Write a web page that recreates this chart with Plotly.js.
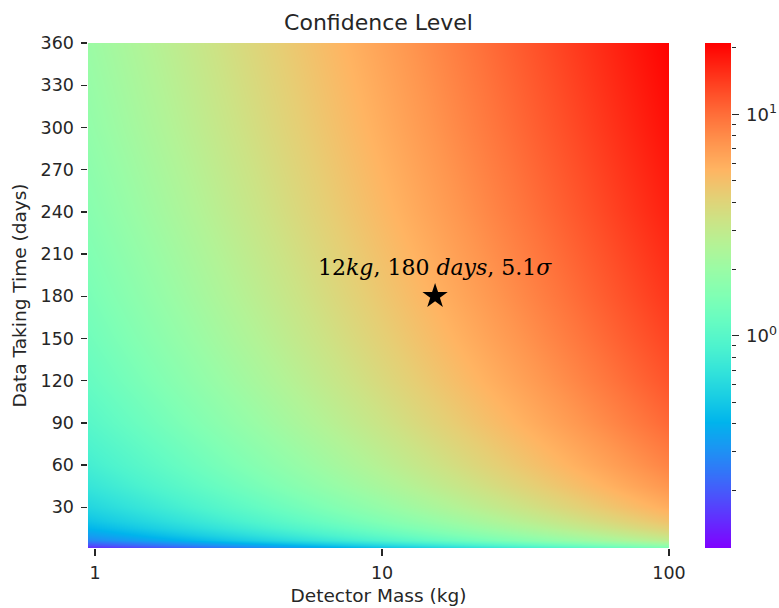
<!DOCTYPE html>
<html>
<head>
<meta charset="utf-8">
<script src="https://cdn.plot.ly/plotly-3.0.1.min.js"></script>
<style>html,body{margin:0;padding:0;background:#ffffff;}</style>
</head>
<body>
<div id="chart" style="width:779px;height:608px;"></div>
<script>
// ---- data ----
const massKg = [0.944, 2, 3, 5, 10, 20, 30, 50, 100];
const daysTaken = [1, 2, 3, 5, 7, 10, 15, 20, 30, 45, 60, 90, 120, 150, 180, 240, 300, 360];
// confidence level (sigma); one row per entry of daysTaken, one column per entry of massKg
const confidenceSigma = [
  [0.107, 0.155, 0.190, 0.245, 0.347, 0.491, 0.601, 0.776, 1.10],
  [0.151, 0.219, 0.269, 0.347, 0.491, 0.694, 0.850, 1.10, 1.55],
  [0.185, 0.269, 0.329, 0.425, 0.601, 0.850, 1.04, 1.34, 1.90],
  [0.238, 0.347, 0.425, 0.549, 0.776, 1.10, 1.34, 1.74, 2.45],
  [0.282, 0.411, 0.503, 0.649, 0.918, 1.30, 1.59, 2.05, 2.90],
  [0.337, 0.491, 0.601, 0.776, 1.10, 1.55, 1.90, 2.45, 3.47],
  [0.413, 0.601, 0.736, 0.950, 1.34, 1.90, 2.33, 3.01, 4.25],
  [0.477, 0.694, 0.850, 1.10, 1.55, 2.19, 2.69, 3.47, 4.91],
  [0.584, 0.850, 1.04, 1.34, 1.90, 2.69, 3.29, 4.25, 6.01],
  [0.715, 1.04, 1.27, 1.65, 2.33, 3.29, 4.03, 5.20, 7.36],
  [0.826, 1.20, 1.47, 1.90, 2.69, 3.80, 4.66, 6.01, 8.50],
  [1.01, 1.47, 1.80, 2.33, 3.29, 4.66, 5.70, 7.36, 10.4],
  [1.17, 1.70, 2.08, 2.69, 3.80, 5.38, 6.58, 8.50, 12.0],
  [1.31, 1.90, 2.33, 3.01, 4.25, 6.01, 7.36, 9.50, 13.4],
  [1.43, 2.08, 2.55, 3.29, 4.66, 6.58, 8.06, 10.4, 14.7],
  [1.65, 2.40, 2.94, 3.80, 5.38, 7.60, 9.31, 12.0, 17.0],
  [1.85, 2.69, 3.29, 4.25, 6.01, 8.50, 10.4, 13.4, 19.0],
  [2.02, 2.94, 3.61, 4.66, 6.58, 9.31, 11.4, 14.7, 20.8]
];
const massTickVals = [1, 10, 100];
const massTickText = ['1', '10', '100'];
const dayTickVals = [30, 60, 90, 120, 150, 180, 210, 240, 270, 300, 330, 360];
const colorMin = 0.11;
const colorMax = 21;
const colorbarLevels = [0.11, 0.2, 0.5, 1, 2, 5, 10, 21];
const colorbarMajorVals = [1, 10];
const colorbarMajorText = ['10<sup>0</sup>', '10<sup>1</sup>'];
const colorbarMinorVals = [0.2, 0.3, 0.4, 0.5, 0.6, 0.7, 0.8, 0.9, 2, 3, 4, 5, 6, 7, 8, 9, 20];
const markerMass = [15.3];
const markerDays = [180];
const markerLabel = '12<i>kg</i>, 180 <i>days</i>, 5.1<i>σ</i>';

// ---- style ----
const rainbow = [
  [0.00, 'rgb(128,0,255)'], [0.05, 'rgb(102,40,254)'], [0.10, 'rgb(77,79,252)'],
  [0.15, 'rgb(51,116,248)'], [0.20, 'rgb(26,150,243)'], [0.25, 'rgb(0,180,236)'],
  [0.30, 'rgb(26,206,227)'], [0.35, 'rgb(51,227,218)'], [0.40, 'rgb(77,243,206)'],
  [0.45, 'rgb(102,252,194)'], [0.50, 'rgb(128,255,180)'], [0.55, 'rgb(153,252,166)'],
  [0.60, 'rgb(179,243,150)'], [0.65, 'rgb(204,227,133)'], [0.70, 'rgb(230,206,116)'],
  [0.75, 'rgb(255,180,98)'], [0.80, 'rgb(255,150,79)'], [0.85, 'rgb(255,116,60)'],
  [0.90, 'rgb(255,79,40)'], [0.95, 'rgb(255,40,20)'], [1.00, 'rgb(255,0,0)']
];
const textColor = '#262626';
const zLo = Math.log10(colorMin), zHi = Math.log10(colorMax);

const traces = [
  {
    type: 'heatmap',
    x: massKg, y: daysTaken,
    z: confidenceSigma.map(r => r.map(v => Math.log10(v))),
    zsmooth: 'best', zmin: zLo, zmax: zHi,
    colorscale: rainbow, showscale: false, hoverinfo: 'skip'
  },
  {
    type: 'heatmap',
    x: [0, 1], y: colorbarLevels,
    z: colorbarLevels.map(v => [Math.log10(v), Math.log10(v)]),
    xaxis: 'x2', yaxis: 'y2',
    zsmooth: 'best', zmin: zLo, zmax: zHi,
    colorscale: rainbow, showscale: false, hoverinfo: 'skip'
  },
  {
    type: 'scatter', mode: 'markers',
    x: markerMass, y: markerDays,
    marker: {symbol: 'star', size: 19, color: '#000000', line: {width: 0}},
    hoverinfo: 'skip', showlegend: false
  }
];

const layout = {
  width: 779, height: 608,
  margin: {l: 88, r: 48, t: 43, b: 60, pad: 0},
  paper_bgcolor: '#ffffff', plot_bgcolor: '#ffffff',
  showlegend: false,
  font: {family: 'DejaVu Sans, sans-serif', color: textColor, size: 17.5},
  title: {
    text: 'Confidence Level',
    font: {size: 22, color: textColor},
    xref: 'container', x: 378.5 / 779, xanchor: 'center',
    yref: 'container', y: 1 - 22 / 608, yanchor: 'middle'
  },
  xaxis: {
    type: 'log', domain: [0, 581 / 643],
    range: [Math.log10(massKg[0]), Math.log10(100)],
    tickmode: 'array', tickvals: massTickVals, ticktext: massTickText,
    ticks: 'outside', ticklen: 6.5, tickwidth: 1.4, tickcolor: textColor,
    tickfont: {size: 17.5},
    ticklabelstandoff: 2,
    showgrid: false, zeroline: false, showline: false,
    title: {text: 'Detector Mass (kg)', font: {size: 18.5}, standoff: 7}
  },
  yaxis: {
    range: [1, 360],
    tickmode: 'array', tickvals: dayTickVals,
    ticks: 'outside', ticklen: 6.5, tickwidth: 1.4, tickcolor: textColor,
    tickfont: {size: 17.5},
    ticklabelstandoff: 3,
    showgrid: false, zeroline: false, showline: false,
    title: {text: 'Data Taking Time (days)', font: {size: 18.5}, standoff: 9}
  },
  xaxis2: {domain: [617 / 643, 1], range: [0, 1], visible: false, anchor: 'y2', fixedrange: true},
  yaxis2: {
    type: 'log', anchor: 'x2', side: 'right',
    range: [zLo, zHi],
    tickmode: 'array', tickvals: colorbarMajorVals, ticktext: colorbarMajorText,
    ticks: 'outside', ticklen: 6.5, tickwidth: 1.4, tickcolor: textColor,
    tickfont: {size: 18},
    ticklabelstandoff: 4,
    minor: {tickmode: 'array', tickvals: colorbarMinorVals, ticks: 'outside', ticklen: 3.7, tickwidth: 1, tickcolor: textColor, showgrid: false},
    showgrid: false, zeroline: false, showline: false
  },
  annotations: [{
    xref: 'x', yref: 'y',
    x: Math.log10(markerMass[0]), y: markerDays[0],
    text: markerLabel, showarrow: false,
    xanchor: 'center', yanchor: 'middle', yshift: 29,
    font: {family: 'DejaVu Serif, serif', size: 22, color: '#000000'}
  }]
};

Plotly.newPlot('chart', traces, layout, {staticPlot: true, displayModeBar: false});
</script>
</body>
</html>
